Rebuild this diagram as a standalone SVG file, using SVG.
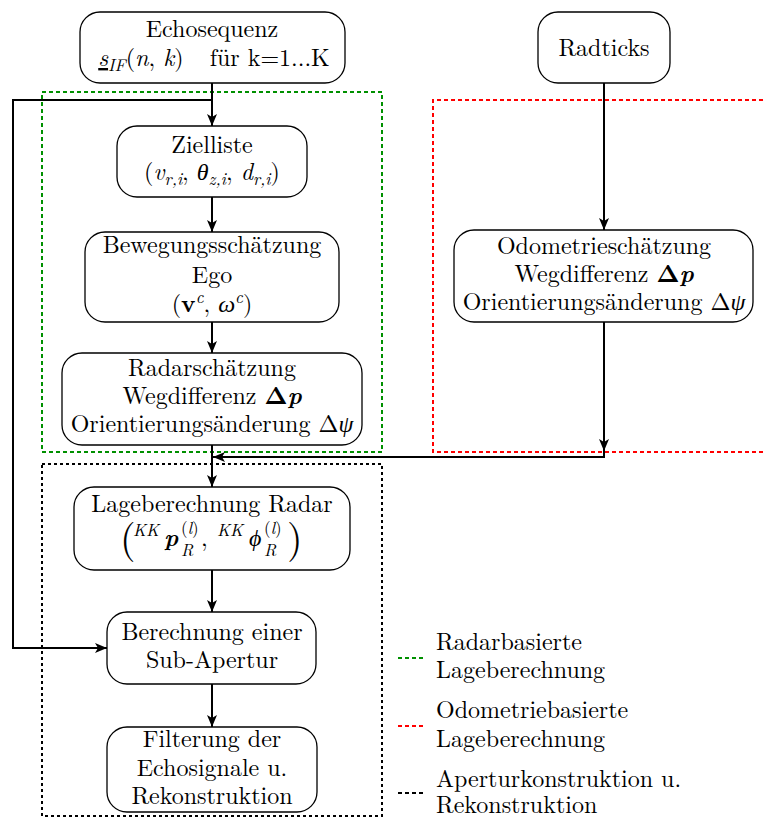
<svg xmlns="http://www.w3.org/2000/svg" width="763" height="819" viewBox="0 0 763 819">
<style>
.t{font-family:'Latin Modern Roman','Liberation Serif',serif;font-size:24px;fill:#000}
.s{font-size:17px}
.i{font-style:italic}
.b{font-weight:bold}
.box{fill:#fff;stroke:#000;stroke-width:1.3}
.c{fill:none;stroke:#000;stroke-width:2}
.g{fill:none;stroke:#009000;stroke-width:2;stroke-dasharray:4 3}
.r{fill:none;stroke:#ff0000;stroke-width:2;stroke-dasharray:4 3}
.k{fill:none;stroke:#000;stroke-width:2;stroke-dasharray:3 3}
.kl{fill:none;stroke:#000;stroke-width:2;stroke-dasharray:4 3}
.big{font-size:40px}
</style>
<defs>
<marker id="a" viewBox="0 0 12 10" refX="12" refY="5" markerWidth="12" markerHeight="10" markerUnits="userSpaceOnUse" orient="auto">
<path d="M0,0 L12,5 L0,10 L3,5 z" fill="#000"/>
</marker>
</defs>
<g id="regions">
<rect class="g" x="42" y="92" width="340" height="360"/>
<path class="r" d="M763,100 H433 V452 H763"/>
<rect class="k" x="42" y="464" width="340" height="352"/>
</g>
<g id="connectors">
<path class="c" d="M212,83 V126" marker-end="url(#a)"/>
<path class="c" d="M212,100 H13 V648 H107" marker-end="url(#a)"/>
<path class="c" d="M212,197 V232" marker-end="url(#a)"/>
<path class="c" d="M212,322 V353" marker-end="url(#a)"/>
<path class="c" d="M212,445 V487" marker-end="url(#a)"/>
<path class="c" d="M212,570 V612" marker-end="url(#a)"/>
<path class="c" d="M212,684 V727" marker-end="url(#a)"/>
<path class="c" d="M604,83 V230" marker-end="url(#a)"/>
<path class="c" d="M604,322 V451" marker-end="url(#a)"/>
<path class="c" d="M604,449 V457 H213" marker-end="url(#a)"/>
</g>
<g id="echosequenz">
<rect class="box" x="80" y="12" width="265" height="71" rx="20"/>
<text class="t" x="212" y="37" text-anchor="middle">Echosequenz</text>
<text class="t" x="214" y="66" text-anchor="middle"><tspan class="i" text-decoration="underline">s</tspan><tspan class="i s" dy="5">IF</tspan><tspan dy="-5">(</tspan><tspan class="i">n</tspan><tspan>, </tspan><tspan class="i">k</tspan><tspan>)</tspan><tspan dx="26">für k=1...K</tspan></text>
</g>
<g id="radticks">
<rect class="box" x="538" y="12" width="132" height="71" rx="20"/>
<text class="t" x="604" y="56" text-anchor="middle">Radticks</text>
</g>
<g id="zielliste">
<rect class="box" x="117" y="126" width="190" height="71" rx="20"/>
<text class="t" x="212" y="153" text-anchor="middle">Zielliste</text>
<text class="t" x="212" y="180" text-anchor="middle"><tspan>(</tspan><tspan class="i">v</tspan><tspan class="i s" dy="5">r,i</tspan><tspan dy="-5">, </tspan><tspan style="font-family:'Liberation Serif';font-style:italic;font-weight:normal">θ</tspan><tspan class="i s" dy="5">z,i</tspan><tspan dy="-5">, </tspan><tspan class="i">d</tspan><tspan class="i s" dy="5">r,i</tspan><tspan dy="-5">)</tspan></text>
</g>
<g id="bewegung">
<rect class="box" x="85" y="232" width="254" height="90" rx="20"/>
<text class="t" x="212" y="253" text-anchor="middle">Bewegungsschätzung</text>
<text class="t" x="212" y="283" text-anchor="middle">Ego</text>
<text class="t" x="212" y="312" text-anchor="middle"><tspan>(</tspan><tspan class="b">v</tspan><tspan class="i s" dy="-9">c</tspan><tspan dy="9">, </tspan><tspan style="font-family:'Liberation Serif';font-style:italic;font-weight:normal">ω</tspan><tspan class="i s" dy="-9">c</tspan><tspan dy="9">)</tspan></text>
</g>
<g id="radarschaetzung">
<rect class="box" x="62" y="353" width="300" height="92" rx="20"/>
<text class="t" x="212" y="376" text-anchor="middle">Radarschätzung</text>
<text class="t" x="212" y="404" text-anchor="middle">Wegdifferenz <tspan class="b">Δ</tspan><tspan class="b i">p</tspan></text>
<text class="t" x="212" y="432" text-anchor="middle">Orientierungsänderung Δ<tspan style="font-family:'Liberation Serif';font-style:italic;font-weight:normal">ψ</tspan></text>
</g>
<g id="odometrie">
<rect class="box" x="454" y="230" width="299" height="92" rx="20"/>
<text class="t" x="604" y="254" text-anchor="middle">Odometrieschätzung</text>
<text class="t" x="604" y="282" text-anchor="middle">Wegdifferenz <tspan class="b">Δ</tspan><tspan class="b i">p</tspan></text>
<text class="t" x="604" y="310" text-anchor="middle">Orientierungsänderung Δ<tspan style="font-family:'Liberation Serif';font-style:italic;font-weight:normal">ψ</tspan></text>
</g>
<g id="lageberechnung">
<rect class="box" x="74" y="487" width="276" height="83" rx="20"/>
<text class="t" x="212" y="512" text-anchor="middle">Lageberechnung Radar</text>
<text class="t big" x="120" y="552">(</text>
<text class="t s i" x="133" y="536">KK</text>
<text class="t b i" x="164" y="546">p</text>
<text class="t s" x="181" y="534">(<tspan class="i">l</tspan>)</text>
<text class="t s i" x="181" y="556">R</text>
<text class="t" x="201" y="546">,</text>
<text class="t s i" x="217" y="536">KK</text>
<text class="t" x="249" y="546" style="font-family:'Liberation Serif';font-style:italic;font-weight:normal">ϕ</text>
<text class="t s" x="264" y="534">(<tspan class="i">l</tspan>)</text>
<text class="t s i" x="264" y="556">R</text>
<text class="t big" x="287" y="552">)</text>
</g>
<g id="subapertur">
<rect class="box" x="107" y="612" width="209" height="72" rx="20"/>
<text class="t" x="212" y="640" text-anchor="middle">Berechnung einer</text>
<text class="t" x="212" y="668" text-anchor="middle">Sub-Apertur</text>
</g>
<g id="filterung">
<rect class="box" x="107" y="727" width="210" height="85" rx="20"/>
<text class="t" x="212" y="747" text-anchor="middle">Filterung der</text>
<text class="t" x="212" y="776" text-anchor="middle">Echosignale u.</text>
<text class="t" x="212" y="804" text-anchor="middle">Rekonstruktion</text>
</g>
<g id="legend">
<line class="g" x1="398" y1="658" x2="424" y2="658"/>
<line class="r" x1="398" y1="726" x2="424" y2="726"/>
<line class="kl" x1="398" y1="793" x2="424" y2="793"/>
<text class="t" x="436" y="650">Radarbasierte</text>
<text class="t" x="436" y="678">Lageberechnung</text>
<text class="t" x="436" y="718">Odometriebasierte</text>
<text class="t" x="436" y="747">Lageberechnung</text>
<text class="t" x="436" y="787">Aperturkonstruktion u.</text>
<text class="t" x="436" y="813">Rekonstruktion</text>
</g>
</svg>
